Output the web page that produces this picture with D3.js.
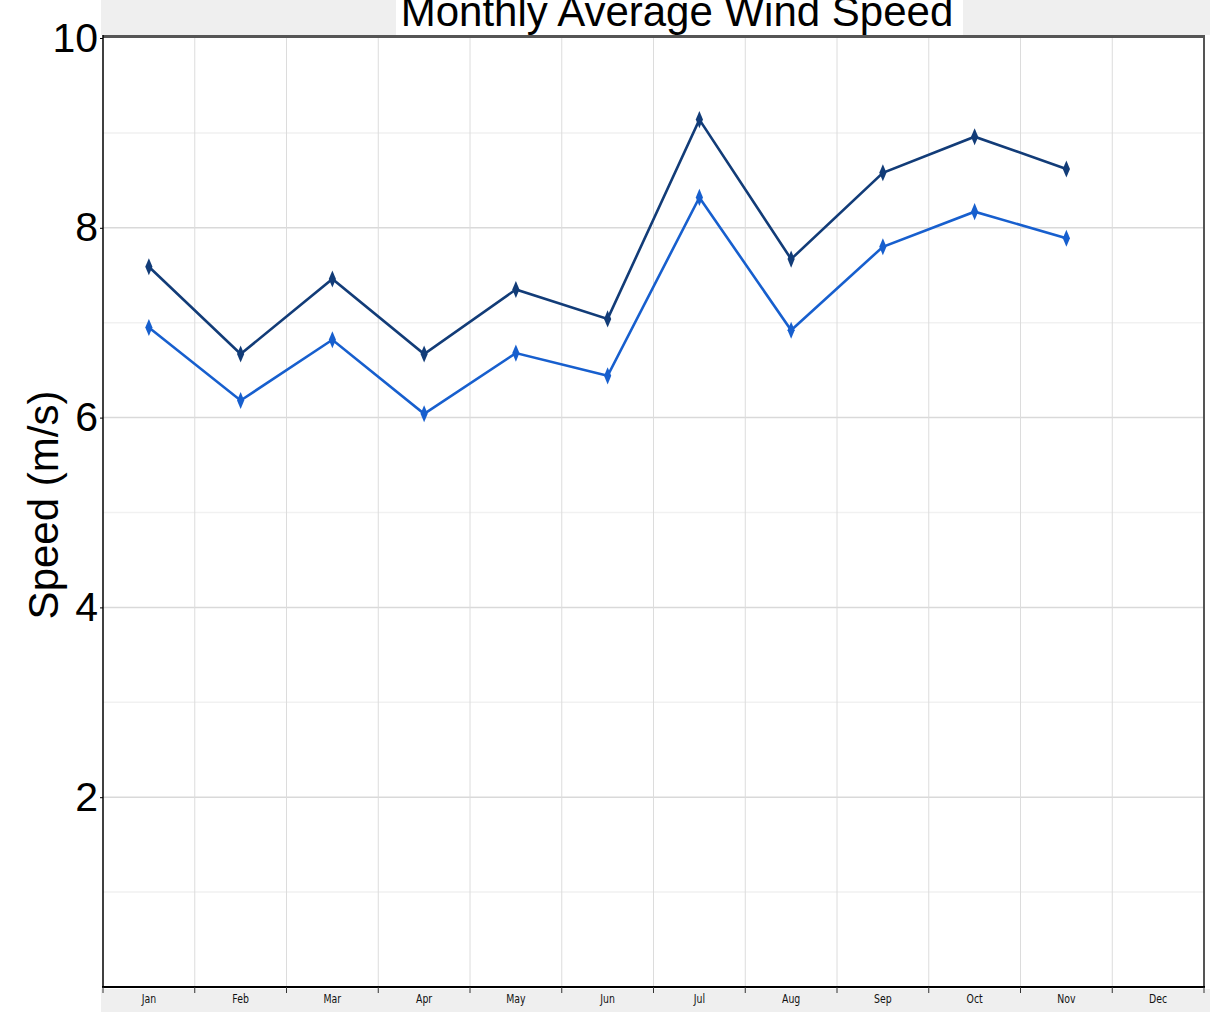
<!DOCTYPE html>
<html>
<head>
<meta charset="utf-8">
<script src="https://cdn.jsdelivr.net/npm/d3@7"></script>
<style>
body { margin: 0; background: #fff; }
svg { display: block; font-family: "Liberation Sans", Arial, sans-serif; }
</style>
</head>
<body>
<svg></svg>
<script>
var width = 1218,
    height = 1013,
    margin = {
        top: 38,
        bottom: 26,
        left: 103,
        right: 14
    }

var months = ["Jan", "Feb", "Mar", "Apr", "May", "Jun", "Jul", "Aug", "Sep", "Oct", "Nov", "Dec"]
// Dec has no reading
var upperSeries = [7.59, 6.67, 7.46, 6.67, 7.35, 7.04, 9.14, 7.67, 8.58, 8.96, 8.62, null]
var lowerSeries = [6.95, 6.18, 6.82, 6.04, 6.68, 6.44, 8.32, 6.92, 7.80, 8.17, 7.89, null]
var majorTicks = [2, 4, 6, 8, 10]
var minorTicks = [1, 3, 5, 7, 9]

var series = [
    { name: "upper", values: upperSeries, color: "#123c78" },
    { name: "lower", values: lowerSeries, color: "#175fce" }
]

drawGraph()

function drawGraph() {
    var svg = d3.select("svg")
        .attr("width", width)
        .attr("height", height)

    var w = width - margin.left - margin.right,
        h = height - margin.top - margin.bottom

    // grey bands above and below plot
    svg.append("rect").attr("x", 101).attr("y", 0).attr("width", 1109).attr("height", 35).attr("fill", "#efefef")
    svg.append("rect").attr("x", 101).attr("y", 989).attr("width", 1109).attr("height", 23).attr("fill", "#efefef")
    svg.append("rect").attr("x", 396).attr("y", 0).attr("width", 567).attr("height", 35).attr("fill", "#fff")

    svg.append("text")
        .attr("x", 677)
        .attr("y", 26)
        .attr("text-anchor", "middle")
        .attr("font-size", 42)
        .attr("fill", "#000")
        .text("Monthly Average Wind Speed")

    var canvas = svg.append("g")
        .attr("transform", "translate(" + margin.left + "," + margin.top + ")")

    var x = d3.scaleBand().domain(months).range([0, w])
    var y = d3.scaleLinear().domain([0, 10]).range([h, 0])

    // minor gridlines
    canvas.selectAll(".minor").data(minorTicks).enter().append("line")
        .attr("x1", 0).attr("x2", w)
        .attr("y1", d => y(d)).attr("y2", d => y(d))
        .attr("stroke", "#f1f1f1").attr("stroke-width", 1.5)

    // major gridlines
    canvas.selectAll(".major").data(majorTicks.slice(0, 4)).enter().append("line")
        .attr("x1", 0).attr("x2", w)
        .attr("y1", d => y(d)).attr("y2", d => y(d))
        .attr("stroke", "#d9d9d9").attr("stroke-width", 1.5)

    // vertical gridlines at band edges
    canvas.selectAll(".vgrid").data(months.slice(1)).enter().append("line")
        .attr("x1", d => x(d)).attr("x2", d => x(d))
        .attr("y1", -2).attr("y2", h)
        .attr("stroke", "#dcdcdc").attr("stroke-width", 1)

    // frame: top and right
    canvas.append("line").attr("x1", 0).attr("x2", w + 1).attr("y1", -1.5).attr("y2", -1.5)
        .attr("stroke", "#555").attr("stroke-width", 3)
    canvas.append("line").attr("x1", w).attr("x2", w).attr("y1", -2).attr("y2", h)
        .attr("stroke", "#555").attr("stroke-width", 2)

    // y axis
    var yAxis = d3.axisLeft(y).tickValues(majorTicks).tickSize(3).tickPadding(2)
    var yg = canvas.append("g").call(yAxis)
    yg.select(".domain").attr("stroke", "#000").attr("stroke-width", 1.5)
        .attr("d", "M0," + (h) + "V-3")
    yg.selectAll(".tick line").attr("stroke", "#000")
    yg.selectAll("text").attr("font-size", 41).attr("fill", "#000")
        .attr("font-family", "Liberation Sans, Arial, sans-serif")

    svg.append("text")
        .attr("transform", "translate(58," + 505 + ") rotate(-90)")
        .attr("text-anchor", "middle")
        .attr("font-size", 42)
        .attr("fill", "#000")
        .text("Speed (m/s)")

    // x axis, ticks at band edges
    var xg = canvas.append("g").attr("transform", "translate(0," + h + ")")
    xg.append("line").attr("x1", -1).attr("x2", w + 1).attr("y1", 0).attr("y2", 0)
        .attr("stroke", "#000").attr("stroke-width", 2)
    xg.selectAll(".xtick").data(months.concat(["end"])).enter().append("line")
        .attr("x1", (d, i) => i * x.step()).attr("x2", (d, i) => i * x.step())
        .attr("y1", 0).attr("y2", 6)
        .attr("stroke", "#333").attr("stroke-width", 1)
    xg.selectAll(".xlabel").data(months).enter().append("text")
        .attr("x", d => x(d) + x.bandwidth() / 2)
        .attr("y", 16)
        .attr("text-anchor", "middle")
        .attr("font-family", "Liberation Sans Narrow, DejaVu Sans Condensed, sans-serif")
        .attr("font-size", 13)
        .attr("transform", d => "translate(" + (x(d) + x.bandwidth() / 2) * 0.2 + ",0) scale(0.8,1)")
        .attr("fill", "#111")
        .text(d => d)

    var line = d3.line()
        .defined(d => d != null)
        .x((d, i) => x(months[i]) + x.bandwidth() / 2)
        .y(d => y(d))

    var diamond = d3.symbol().type(d3.symbolDiamond).size(70)

    series.forEach(function(s) {
        canvas.append("path")
            .datum(s.values)
            .attr("fill", "none")
            .attr("stroke", s.color)
            .attr("stroke-width", 2.6)
            .attr("d", line)

        canvas.selectAll(".pt-" + s.name)
            .data(s.values.map((v, i) => ({ m: months[i], v: v })).filter(d => d.v != null))
            .enter().append("path")
            .attr("d", diamond)
            .attr("fill", s.color)
            .attr("transform", d => "translate(" + (x(d.m) + x.bandwidth() / 2) + "," + y(d.v) + ") scale(0.8,1.1)")
    })
}
</script>
</body>
</html>
